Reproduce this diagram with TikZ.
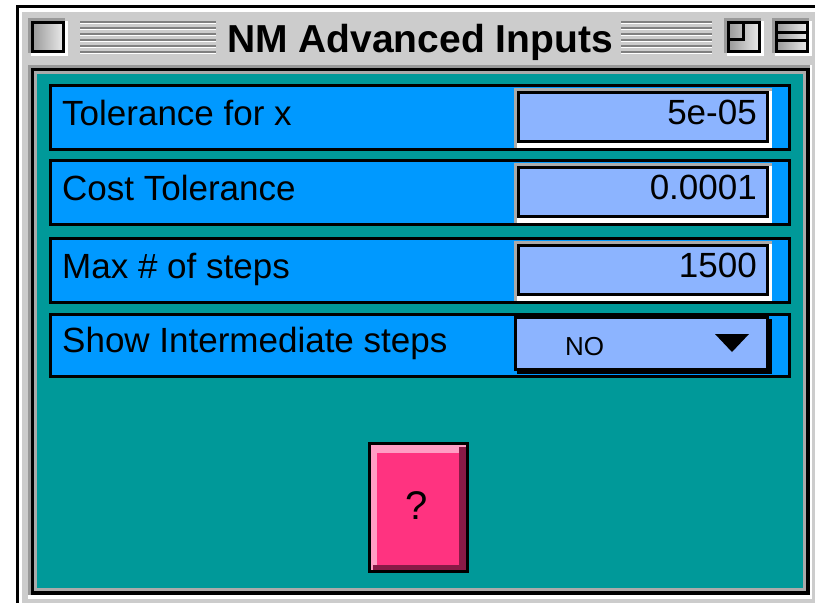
\documentclass[tikz,border=0pt]{standalone}
\usepackage{fontspec}
\setmainfont{Liberation Sans}
\usetikzlibrary{positioning}

\definecolor{wingray}{HTML}{CCCCCC}
\definecolor{winshade}{HTML}{999999}
\definecolor{winlight}{HTML}{AAAAAA}
\definecolor{winstripe}{HTML}{808080}
\definecolor{paneteal}{HTML}{009999}
\definecolor{rowblue}{HTML}{0099FF}
\definecolor{fieldblue}{HTML}{8CB4FF}
\definecolor{btnpink}{HTML}{FF3380}
\definecolor{btnlight}{HTML}{FF9EC4}
\definecolor{btndark}{HTML}{881A46}

\begin{document}
\begin{tikzpicture}[x=1pt, y=-1pt,
    rowbar/.style={draw=black, line width=3pt, fill=rowblue},
    field/.style={draw=black, line width=3pt, fill=fieldblue},
    winbox/.style={draw=black, line width=3pt, shading=axis, left color=winshade, right color=wingray!40},
    lbl/.style={anchor=base west, inner sep=0pt, font=\fontsize{35}{35}\selectfont},
    val/.style={anchor=base east, inner sep=0pt, font=\fontsize{35}{35}\selectfont},
  ]
  \useasboundingbox (0,0) rectangle (815,603);
  \fill[white] (0,0) rectangle (815,603);

  % window frame
  \fill[black] (16,5) rectangle (815,8);
  \fill[black] (16,5) rectangle (19,603);
  \fill[wingray] (22,12) rectangle (815,603);

  % title bar: close box, stripes, title, zoom and shade boxes
  \fill[winshade] (28,18) rectangle (65,53);
  \fill[white] (31,21) rectangle (68,56);
  \path[winbox] (32.5,22.5) rectangle (63.5,51.5);
  \foreach \y in {23,29,35,41,47,53} {
    \fill[winstripe] (80,\y-2) rectangle (216,\y);
    \fill[white] (80,\y) rectangle (216,\y+1);
    \fill[winstripe] (621,\y-2) rectangle (712,\y);
    \fill[white] (621,\y) rectangle (712,\y+1);
  }
  \node[anchor=base, inner sep=0pt, font=\bfseries\fontsize{39}{39}\selectfont] (title) at (420,52) {NM Advanced Inputs};
  \fill[winshade] (724,18) rectangle (761,53);
  \fill[white] (727,21) rectangle (764,56);
  \path[winbox] (728.5,22.5) rectangle (759.5,51.5);
  \draw[line width=3pt] (743.5,22.5) |- (728.5,39.5);
  \fill[winshade] (772,18) rectangle (809,53);
  \fill[white] (775,21) rectangle (812,56);
  \path[winbox] (776.5,22.5) rectangle (807.5,51.5);
  \draw[line width=3pt] (776.5,32.5) -- (807.5,32.5) (776.5,40.5) -- (807.5,40.5);

  % content well
  \fill[white] (28,65) rectangle (812,599);
  \fill[winshade] (28,65) rectangle (810,595);
  \fill[black] (31,68) rectangle (810,595);
  \fill[winlight] (34,71) rectangle (806,591);
  \fill[paneteal] (37,74) rectangle (803,588);

  % input rows
  \foreach \top/\lab/\num [count=\i] in {84/Tolerance for x/5e-05, 159/Cost Tolerance/0.0001, 237/Max \# of steps/1500} {
    \path[rowbar] (50.5,\top+1.5) rectangle (789.5,\top+65.5);
    \fill[winlight] (514,\top+4) rectangle (772,\top+64);
    \fill[white] (517,\top+7) rectangle (772,\top+64);
    \path[field] (518.5,\top+8.5) rectangle (767.5,\top+57.5);
    \node[lbl] (label\i) at (62,\top+41) {\lab};
    \node[val] (value\i) at (757,\top+40) {\num};
  }

  % pop-up row
  \path[rowbar] (50.5,314.5) rectangle (789.5,376.5);
  \fill[black] (517,319) rectangle (772,374);
  \path[field] (515.5,317.5) rectangle (767.5,369.5);
  \node[lbl] (label4) at (62,352) {Show Intermediate steps};
  \node[anchor=base west, inner sep=0pt, font=\fontsize{26}{26}\selectfont] (choice) at (565,355) {NO};
  \fill (715,334) -- (749,334) -- (732,352) -- cycle;

  % help button
  \fill[black] (368,442) rectangle (469,573);
  \fill[btnlight] (371,445) rectangle (466,570);
  \fill[btndark] (459,447) rectangle (466,570);
  \fill[btndark] (373,565) rectangle (466,570);
  \fill[btnpink] (377,453) rectangle (459,565);
  \node[inner sep=0pt, font=\fontsize{40}{40}\selectfont] (help) at (417,506) {?};
\end{tikzpicture}
\end{document}
